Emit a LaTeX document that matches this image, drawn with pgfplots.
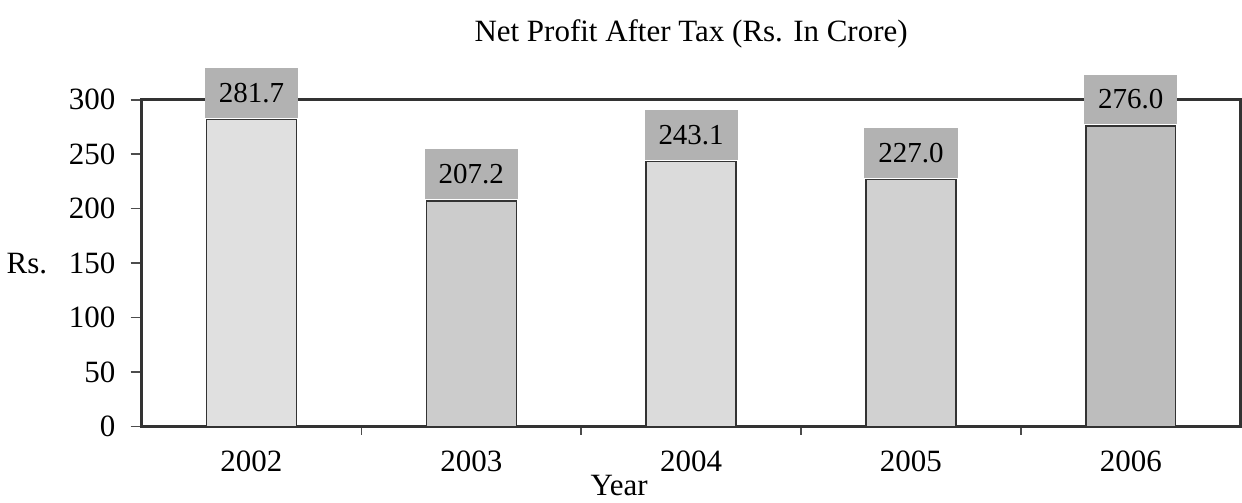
\documentclass[border=0pt]{standalone}
\usepackage{pgfplots}
\pgfplotsset{compat=1.18}
\usepackage{fontspec}
\setmainfont{Liberation Serif}
\begin{document}
\begin{tikzpicture}
\begin{axis}[
    width=550pt, height=163.5pt, scale only axis,
    xmin=-0.5, xmax=4.5, ymin=0, ymax=300,
    ybar, bar width=45pt, bar shift=0pt,
    ytick={0,50,...,300},
    xtick={0,...,4},
    xticklabels={2002,2003,2004,2005,2006},
    major x tick style={draw=none},
    minor xtick={0.5,1.5,2.5,3.5},
    minor tick length=4pt,
    major tick length=5.5pt,
    tick align=outside,
    xtick pos=bottom, ytick pos=left,
    tick style={black!70, line width=0.8pt},
    axis line style={black!80, line width=1.3pt},
    ticklabel style={font=\fontsize{15.5}{18}\selectfont},
    /pgf/number format/assume math mode=true,
    xticklabel style={yshift=-3pt},
    yticklabel style={xshift=-4pt},
    title={Net Profit After Tax (Rs. In Crore)},
    title style={font=\fontsize{15.5}{18}\selectfont, yshift=9.5pt, inner ysep=10pt},
    xlabel={Year},
    xlabel style={font=\fontsize{15.5}{18}\selectfont, yshift=5pt, xshift=-36pt},
    clip=false,
    nodes near coords,
    nodes near coords style={font=\fontsize{14.5}{17}\selectfont, fill=black!30,
        inner xsep=7pt, inner ysep=7.5pt, anchor=south, yshift=0.5pt,
        /pgf/number format/.cd, fixed, fixed zerofill, precision=1, assume math mode=true},
    every axis plot/.append style={draw=black!80, line width=0.7pt},
]
\addplot[fill=black!12] coordinates {(0,281.7)};
\addplot[fill=black!20] coordinates {(1,207.2)};
\addplot[fill=black!14] coordinates {(2,243.1)};
\addplot[fill=black!18] coordinates {(3,227.0)};
\addplot[fill=black!26] coordinates {(4,276.0)};
\node[anchor=west, font=\fontsize{15.5}{18}\selectfont] at (axis description cs:0,0.5) [xshift=-71pt] {Rs.};
\end{axis}
\end{tikzpicture}
\end{document}
